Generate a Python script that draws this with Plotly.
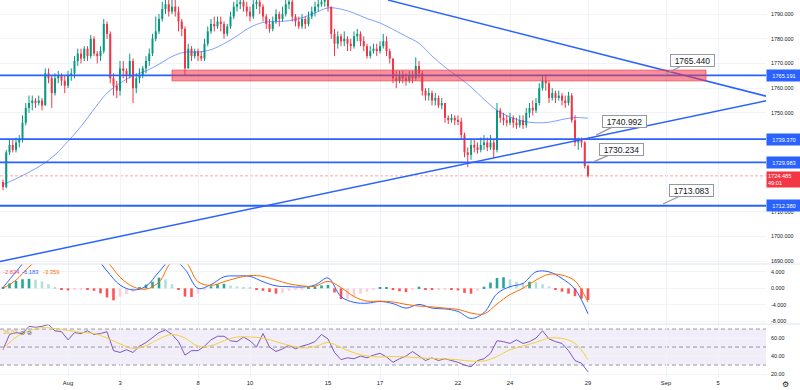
import plotly.graph_objects as go
from plotly.subplots import make_subplots

# ---------------- data (3-hour bars, 8 bars per trading day, bar 0 = Jul 27 00:00) ----------------
first_bar = 4
open_first = 1722.0

close = [
    1720, 1734, 1737, 1735, 1738, 1739, 1746, 1752, 1754, 1755,
    1754, 1755, 1753, 1766, 1764, 1758, 1764, 1765, 1763, 1761,
    1765, 1766, 1771, 1774, 1772, 1776, 1773, 1780, 1774, 1773,
    1775, 1786, 1782, 1764, 1761, 1759, 1768, 1767, 1765, 1771,
    1760, 1764, 1765, 1768, 1771, 1774, 1780, 1783, 1788, 1792,
    1794, 1791, 1793, 1791, 1787, 1784, 1768, 1776, 1773, 1775,
    1773, 1772, 1778, 1783, 1786, 1785, 1787, 1786, 1782, 1785,
    1789, 1793, 1794, 1795, 1793, 1791, 1789, 1794, 1795, 1793,
    1789, 1786, 1784, 1787, 1790, 1788, 1790, 1794, 1795, 1789,
    1787, 1785, 1788, 1786, 1789, 1791, 1793, 1794, 1795, 1796,
    1793, 1782, 1778, 1781, 1779, 1780, 1778, 1777, 1781, 1782,
    1779, 1777, 1773, 1775, 1776, 1775, 1777, 1779, 1775, 1772,
    1764, 1763, 1765, 1764, 1763, 1765, 1764, 1769, 1766, 1759,
    1757, 1758, 1755, 1756, 1753, 1754, 1748, 1747, 1748, 1747,
    1746.5, 1741, 1734, 1733, 1737, 1736, 1735, 1737, 1738, 1736,
    1738, 1735, 1751, 1748, 1747, 1746, 1748, 1746, 1745, 1747,
    1745, 1750, 1752, 1751, 1754, 1760, 1763, 1762, 1756, 1758,
    1756, 1757, 1755, 1754, 1757, 1747, 1738, 1739, 1738, 1728.5,
    1724.485,
]
high = [
    1723, 1735, 1739, 1739, 1740, 1741, 1749, 1754, 1757, 1757,
    1756, 1757, 1756, 1768, 1768, 1765, 1766, 1767, 1766, 1765,
    1767, 1768, 1773, 1776, 1776, 1777, 1777, 1781.5, 1781, 1775,
    1777, 1788, 1787, 1783, 1766, 1763, 1771, 1771, 1768, 1774,
    1772, 1766, 1768, 1769, 1773, 1776, 1782, 1789, 1790, 1795,
    1797, 1796, 1796, 1796, 1793, 1788, 1785, 1778, 1777, 1776,
    1776, 1775, 1780, 1785, 1788, 1789, 1789, 1789, 1787, 1786,
    1791, 1795, 1796, 1797, 1796, 1795, 1793, 1797, 1798, 1797,
    1794, 1790, 1788, 1789, 1792, 1791, 1793, 1797, 1798, 1796,
    1790, 1789, 1790, 1789, 1791, 1793, 1795, 1797, 1798, 1799,
    1797, 1793, 1784, 1783, 1782, 1783, 1781, 1780, 1783, 1784,
    1783, 1781, 1778, 1777, 1778, 1778, 1779, 1782, 1781, 1776,
    1772, 1767, 1767, 1767, 1766, 1767, 1767, 1772.5, 1771, 1767,
    1760, 1760, 1759, 1758, 1757, 1756, 1754, 1749, 1749.5, 1749,
    1749, 1748, 1742, 1736, 1739, 1739, 1738, 1740, 1741, 1740,
    1741, 1739, 1754, 1752, 1750, 1749, 1750, 1749, 1748, 1749,
    1749, 1752, 1754, 1755, 1756, 1762, 1765, 1765.5, 1763, 1760,
    1759, 1759, 1758, 1757, 1758.5, 1758, 1749, 1740, 1740, 1738.5,
    1729,
]
low = [
    1718.7, 1719.5, 1733, 1734, 1734, 1736, 1738, 1745, 1750, 1751,
    1752, 1753, 1751, 1753, 1762, 1752, 1757, 1762, 1761, 1758,
    1760, 1763, 1764, 1769, 1770, 1771, 1771, 1772, 1773, 1770,
    1771, 1774, 1780, 1762, 1757, 1756, 1757, 1764, 1762, 1764,
    1754, 1758, 1762, 1764, 1766, 1769, 1773, 1779, 1782, 1787,
    1790, 1789, 1790, 1789, 1783, 1781, 1765, 1768, 1771, 1772,
    1771, 1771, 1771, 1777, 1782, 1783, 1784, 1783, 1780, 1781,
    1784, 1788, 1791, 1792, 1791, 1789, 1787, 1788, 1792, 1790,
    1787, 1784, 1782.5, 1783, 1786, 1785, 1787, 1789, 1792, 1787,
    1785, 1784, 1784, 1784, 1785, 1788, 1789, 1791, 1793, 1793,
    1791, 1780, 1773, 1776, 1777, 1777, 1775, 1775, 1776, 1779,
    1777, 1775, 1772, 1772, 1774, 1773, 1774, 1776, 1773, 1770,
    1762, 1760, 1762, 1762, 1761, 1762, 1762, 1763, 1764, 1757,
    1755, 1755, 1753, 1753, 1752, 1751.5, 1746, 1745.5, 1746, 1745,
    1745, 1739, 1732, 1728, 1731, 1734, 1733.5, 1734, 1735, 1734.5,
    1735, 1731.6, 1734, 1746, 1745, 1744.5, 1745, 1744, 1743.5, 1744,
    1743.5, 1744, 1748, 1749, 1750, 1753, 1759, 1759, 1754, 1755,
    1754, 1755, 1753, 1752, 1753, 1746, 1736.5, 1735, 1736, 1727.5,
    1723.8,
]

# moving average on price, one value every 4 bars (bars 4..184)
ma_values = [
    1721, 1723.3, 1726, 1729, 1733, 1738.5, 1744.5, 1751.5, 1758, 1762,
    1765, 1767, 1769.7, 1772.8, 1774.6, 1774.6, 1775.6, 1778, 1781.2, 1784.6,
    1786.6, 1787, 1787.3, 1788.5, 1790.5, 1792.5, 1792, 1790.4, 1788.2, 1786.4,
    1783.8, 1781, 1778.2, 1773, 1768.5, 1764.6, 1760.5, 1755.5, 1751, 1748.3,
    1746.6, 1746, 1746.2, 1747.3, 1748.1, 1747.8,
]

# MACD line and signal, one value every 4 bars (bars 4..184)
macd_line = [
    0.2, 4.0, 7.6, 9.2, 9.0, 8.6, 8.3, 7.8, 4.2, 0.8,
    -0.4, 0.5, 4.0, 7.0, 4.6, 0.0, 0.9, 2.8, 3.0, 2.9,
    1.6, 0.6, 0.4, 0.3, 0.8, 2.5, -2.0, -3.4, -3.6, -3.2,
    -3.7, -4.8, -3.9, -4.8, -5.0, -5.6, -7.3, -5.9, -1.3, 0.4,
    1.2, 4.0, 4.0, 2.4, -0.2, -6.183,
]
signal_line = [
    0.0, 2.0, 5.2, 7.6, 8.6, 8.9, 8.8, 8.6, 6.5, 2.7,
    0.4, -0.2, 1.5, 6.4, 6.5, 1.6, 0.7, 1.6, 2.5, 3.1,
    2.9, 2.0, 1.1, 0.6, 0.5, 1.7, 0.2, -2.0, -3.1, -3.1,
    -3.3, -3.9, -4.3, -4.5, -4.8, -5.1, -6.0, -6.2, -3.8, -1.5,
    0.0, 2.0, 3.4, 3.2, 1.8, -3.359,
]
# MACD histogram, one value every 2 bars (bars 4..184)
macd_hist = [
    0.2, 1.2, 1.8, 2.2, 2.3, 2.1, 1.7, 1.0, 0.3, -0.4,
    -0.5, -0.4, -0.3, -0.4, -0.6, -1.2, -2.2, -2.9, -2.0, -1.4,
    -0.8, 0.3, 0.9, 1.6, 2.6, 2.2, 1.0, -0.3, -2.0, -2.1,
    -1.3, -0.4, 0.5, 1.0, 1.1, 0.7, 0.5, 0.3, 0.2, -0.2,
    -0.6, -0.9, -1.3, -1.1, -0.6, -0.4, -0.2, 0.1, 0.4, 0.7,
    0.8, -1.0, -2.6, -2.6, -1.9, -1.3, -0.8, -0.4, 0.1, 0.3,
    -0.3, -0.7, -0.9, -0.2, 0.4, -0.2, -0.3, -0.3, -0.2, -0.3,
    -0.5, -1.1, -1.3, -0.6, 0.4, 1.4, 2.5, 2.7, 2.2, 1.6,
    1.3, 1.6, 1.5, 1.0, 0.5, -0.4, -0.8, -1.3, -1.9, -2.5,
    -2.824,
]
# RSI, one value every 2 bars (bars 4..184)
rsi_values = [
    47, 64, 66, 65, 73, 72, 73, 75, 68, 67,
    58, 66, 65, 68, 64, 65, 67, 46, 44, 47,
    44, 51, 55, 61, 66, 69, 64, 56, 41, 46,
    46, 51, 58, 62, 62, 57, 56, 61, 57, 50,
    65, 50, 45, 48, 52, 48, 51, 53, 56, 64,
    59, 44, 36, 38, 37, 40, 38, 41, 43, 39,
    33, 37, 40, 45, 40, 35, 38, 35, 37, 35,
    33, 30, 28, 35, 37, 43, 57, 56, 54, 58,
    54, 56, 60, 68, 59, 56, 54, 46, 35, 32,
    22.4,
]
# RSI-based moving average, one value every 4 bars (bars 4..184)
rsi_ma = [
    48, 61, 68, 71.5, 70.5, 68.5, 66.2, 65, 60, 53.5,
    48.5, 51.5, 59, 64, 60, 51, 51.5, 57, 61.1, 61.1,
    60, 56, 51.9, 49, 50.5, 55, 49.5, 43.5, 40, 39,
    39.5, 39, 38, 37.3, 36.8, 35.8, 34.4, 34.5, 39.5, 47,
    51, 55.3, 59.8, 59.6, 54, 36.02,
]

levels = [1765.191, 1739.370, 1729.983, 1712.380]
last_price = 1724.485
countdown = "49:01"
zone_bars = [56, 220.3]
zone_prices = [1762.96, 1767.30]
desc_bars = [122.5, 238.8]
desc_prices = [1795.67, 1756.76]
asc_bars = [3.08, 238.8]
asc_prices = [1689.8, 1754.9]
callout_bars = [207.4, 186.5, 185.8, 207.1]
callout_prices = [1765.440, 1740.992, 1730.234, 1713.083]

tick_bars = [24, 40, 64, 80, 104, 120, 144, 160, 184, 208, 224]
tick_text = ["Aug", "3", "8", "10", "15", "17", "22", "24", "29", "Sep", "5"]
price_ticks = [1690, 1700, 1710, 1750, 1760, 1770, 1780, 1790]
macd_ticks = [-8, -4, 0, 4]
rsi_ticks = [20, 40, 60]

# ---------------- derived positions ----------------
bars = list(range(first_bar, first_bar + len(close)))
opens = [open_first] + close[:-1]
bars4 = list(range(first_bar, first_bar + 4 * len(ma_values), 4))
bars2 = list(range(first_bar, first_bar + 2 * len(macd_hist), 2))

UP = "#089981"
DOWN = "#f23645"
BLUE = "#2962ff"
FONT = "Liberation Sans, Arial, sans-serif"
TXT = "#131722"
GRID = "#f0f3fa"

fig = make_subplots(rows=3, cols=1, shared_xaxes=True, vertical_spacing=0,
                    row_heights=[264, 60, 54])

# candles: wicks + bodies
for up in (True, False):
    wx, wy = [], []
    bx, by, bb = [], [], []
    for b, o, h, l, c in zip(bars, opens, high, low, close):
        if (c >= o) != up:
            continue
        h2 = max(h, o, c)
        l2 = min(l, o, c)
        wx += [b, b, None]
        wy += [l2, h2, None]
        bx.append(b)
        bb.append(min(o, c))
        by.append(max(abs(c - o), 0.35))
    col = UP if up else DOWN
    fig.add_trace(go.Scatter(x=wx, y=wy, mode="lines", line=dict(color=col, width=1),
                             hoverinfo="skip", showlegend=False), row=1, col=1)
    fig.add_trace(go.Bar(x=bx, y=by, base=bb, width=0.62, marker=dict(color=col, line=dict(width=0)),
                         hoverinfo="skip", showlegend=False), row=1, col=1)

# moving average
fig.add_trace(go.Scatter(x=bars4, y=ma_values, mode="lines",
                         line=dict(color="rgba(41,98,255,0.6)", width=1, shape="spline"),
                         hoverinfo="skip", showlegend=False), row=1, col=1)

# trendlines
fig.add_trace(go.Scatter(x=desc_bars, y=desc_prices, mode="lines", line=dict(color=BLUE, width=1.5),
                         hoverinfo="skip", showlegend=False), row=1, col=1)
fig.add_trace(go.Scatter(x=asc_bars, y=asc_prices, mode="lines", line=dict(color=BLUE, width=1.5),
                         hoverinfo="skip", showlegend=False), row=1, col=1)

# MACD histogram colours
hist_colors = []
prev = None
for v in macd_hist:
    if v >= 0:
        hist_colors.append("#26a69a" if (prev is None or v > prev) else "#b2dfdb")
    else:
        hist_colors.append("#ff5252" if (prev is None or v < prev) else "#ffcdd2")
    prev = v
fig.add_trace(go.Bar(x=bars2, y=macd_hist, width=0.8, marker=dict(color=hist_colors, line=dict(width=0)),
                     hoverinfo="skip", showlegend=False), row=2, col=1)
fig.add_trace(go.Scatter(x=bars4, y=macd_line, mode="lines", line=dict(color=BLUE, width=1, shape="spline"),
                         hoverinfo="skip", showlegend=False), row=2, col=1)
fig.add_trace(go.Scatter(x=bars4, y=signal_line, mode="lines", line=dict(color="#ff6d00", width=1, shape="spline"),
                         hoverinfo="skip", showlegend=False), row=2, col=1)

# RSI
fig.add_trace(go.Scatter(x=bars2, y=rsi_values, mode="lines", line=dict(color="#7e57c2", width=1),
                         hoverinfo="skip", showlegend=False), row=3, col=1)
fig.add_trace(go.Scatter(x=bars4, y=rsi_ma, mode="lines", line=dict(color="#f5d03b", width=1, shape="spline"),
                         hoverinfo="skip", showlegend=False), row=3, col=1)

shapes = []
shapes.append(dict(type="rect", xref="x3 domain", yref="y3", x0=0, x1=1, y0=30, y1=70,
                   fillcolor="rgba(126,87,194,0.10)", line=dict(width=0), layer="below"))
for lv in (70, 50, 30):
    shapes.append(dict(type="line", xref="x3 domain", yref="y3", x0=0, x1=1, y0=lv, y1=lv,
                       line=dict(color="rgba(120,123,134,0.75)", width=1, dash="4px,3px"), layer="below"))
shapes.append(dict(type="line", xref="x domain", yref="y", x0=0, x1=1, y0=last_price, y1=last_price,
                   line=dict(color="rgba(242,54,69,0.45)", width=1, dash="3px,2px"), layer="below"))
for lv in levels:
    shapes.append(dict(type="line", xref="x domain", yref="y", x0=0, x1=1, y0=lv, y1=lv,
                       line=dict(color=BLUE, width=1.8), layer="above"))
shapes.append(dict(type="rect", xref="x", yref="y", x0=zone_bars[0], x1=zone_bars[1],
                   y0=zone_prices[0], y1=zone_prices[1],
                   fillcolor="rgba(242,54,69,0.55)", line=dict(color="rgba(242,54,69,0.7)", width=1),
                   layer="above"))
for py in (264, 324):
    yp = (378 - py) / 378
    shapes.append(dict(type="line", xref="paper", yref="paper", x0=0, x1=800 / 766, y0=yp, y1=yp,
                       line=dict(color="#e0e3eb", width=1)))

annotations = []
for lv in levels:
    annotations.append(dict(xref="paper", x=1, xanchor="left", yref="y", y=lv, yanchor="middle",
                            text=f"{lv:.3f}", showarrow=False, bgcolor=BLUE, width=30, height=7,
                            borderpad=2, font=dict(color="white", size=5.6, family=FONT)))
annotations.append(dict(xref="paper", x=1, xanchor="left", yref="y", y=last_price, yanchor="middle",
                        yshift=-3.5, text=f"{last_price:.3f}<br>{countdown}", showarrow=False,
                        bgcolor=DOWN, width=32, height=13, borderpad=1, align="left",
                        font=dict(color="white", size=5.6, family=FONT)))
offsets = [(28, -14), (28, -14), (28, -12), (28.5, -13.5)]
for b, p, (axo, ayo) in zip(callout_bars, callout_prices, offsets):
    annotations.append(dict(xref="x", yref="y", x=b, y=p, text=f"{p:.3f}", showarrow=True,
                            arrowhead=0, arrowwidth=1.3, arrowcolor="#9598a1", ax=axo, ay=ayo,
                            bgcolor="white", bordercolor="#9598a1", borderwidth=1, borderpad=1,
                            width=41, height=9, font=dict(color=TXT, size=8.5, family=FONT)))
for xpx, val, col in ((1, macd_hist[-1], "#ff5252"), (20, macd_line[-1], BLUE), (41, signal_line[-1], "#ff6d00")):
    annotations.append(dict(xref="paper", yref="paper", x=xpx / 766, y=(378 - 272) / 378,
                            xanchor="left", yanchor="middle", text=f"{val:.3f}", showarrow=False,
                            font=dict(color=col, size=5.8, family=FONT)))
annotations.append(dict(xref="paper", yref="paper", x=0.5 / 766, y=(378 - 332) / 378,
                        xanchor="left", yanchor="middle", text=f"{rsi_ma[-1]:.2f}", showarrow=False,
                        font=dict(color="#d9b526", size=5.8, family=FONT)))
annotations.append(dict(xref="paper", yref="paper", x=18 / 766, y=(378 - 332) / 378,
                        xanchor="left", yanchor="middle", text="⊘ ⊘", showarrow=False,
                        font=dict(color="#50535e", size=6, family="DejaVu Sans")))
annotations.append(dict(xref="paper", yref="paper", x=785 / 766, y=(378 - 384.5) / 378,
                        xanchor="center", yanchor="middle", text="⚙", showarrow=False,
                        font=dict(color=TXT, size=8, family="DejaVu Sans")))

fig.update_layout(
    width=800, height=390,
    margin=dict(l=0, r=34, t=0, b=12, autoexpand=False),
    paper_bgcolor="white", plot_bgcolor="white",
    barmode="overlay", showlegend=False, hovermode=False,
    shapes=shapes, annotations=annotations,
    font=dict(family=FONT, color=TXT),
)

for i in (1, 2, 3):
    fig.update_xaxes(row=i, col=1, range=[3.077, 238.77], tickmode="array", tickvals=tick_bars,
                     ticktext=tick_text, showgrid=True, gridcolor=GRID, gridwidth=1, zeroline=False,
                     showline=False, ticks="", showticklabels=(i == 3),
                     tickfont=dict(size=5.8, color=TXT, family=FONT))

fig.update_yaxes(row=1, col=1, side="right", range=[1688.8, 1795.7], tickmode="array",
                 tickvals=price_ticks, ticktext=[f"{v:.3f}" for v in price_ticks])
fig.update_yaxes(row=2, col=1, side="right", range=[-8.65, 5.9], tickmode="array",
                 tickvals=macd_ticks, ticktext=[f"{v:.3f}" for v in macd_ticks])
fig.update_yaxes(row=3, col=1, side="right", range=[15.6, 75.6], tickmode="array",
                 tickvals=rsi_ticks, ticktext=[f"{v:.2f}" for v in rsi_ticks])
fig.update_yaxes(showgrid=True, gridcolor=GRID, gridwidth=1, zeroline=False, showline=False, ticks="",
                 ticklabelstandoff=4, tickfont=dict(size=5.4, color=TXT, family=FONT))

fig.write_html("out.html", config={"displayModeBar": False},
               post_script="document.body.style.margin='0';document.body.style.overflow='hidden';")
